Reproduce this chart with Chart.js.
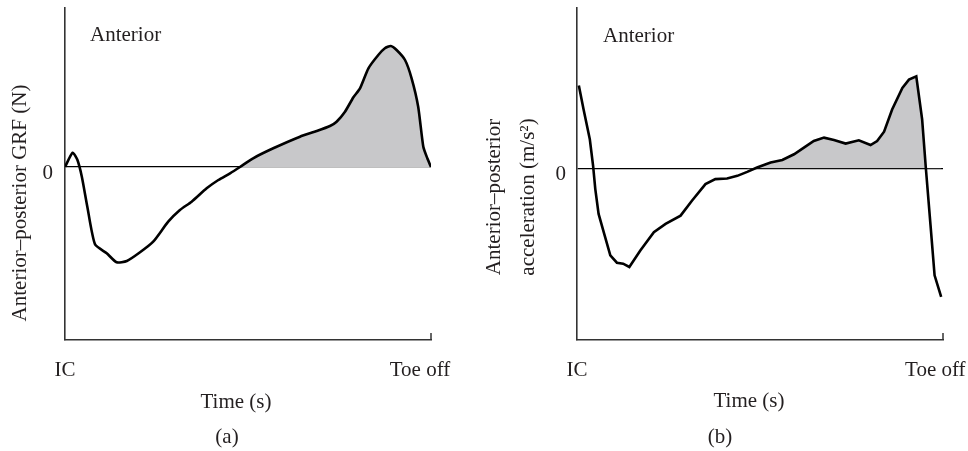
<!DOCTYPE html>
<html>
<head>
<meta charset="utf-8">
<script src="https://cdn.jsdelivr.net/npm/chart.js@4.4.1/dist/chart.umd.min.js"></script>
<style>
  html, body { margin: 0; padding: 0; background: #ffffff; }
  #wrap { position: relative; width: 968px; height: 451px; overflow: hidden; }
  .panel { position: absolute; top: 0; width: 484px; height: 451px; }
  #pa { left: 0; }
  #pb { left: 484px; }
</style>
</head>
<body>
<div id="wrap">
  <div class="panel" id="pa"><canvas id="ca" width="484" height="451"></canvas></div>
  <div class="panel" id="pb"><canvas id="cb" width="484" height="451"></canvas></div>
</div>
<script>
// ---------- Data ----------
// Time axis: 0 = IC (initial contact), 100 = toe off (normalised)
const X_TICK_VALUES_A = [0, 97];
const X_TICK_VALUES_B = [0, 97.9];
const X_TICK_LABELS = ["IC", "Toe off"];
const Y_TICK_VALUES = [0];
const Y_TICK_LABELS = ["0"];

// Panel (a): anterior-posterior GRF (arbitrary units)
const grfTime = [0, 2.1, 3.4, 4.6, 6.1, 8.2, 11.4, 14.1, 16.9, 20.5, 24.1, 28.2, 31.4, 34.6, 38.7, 41.9,
  45.1, 47.8, 51.4, 56.9, 64.2, 68.8, 72.4, 74.2, 76.5, 78.8, 80.6, 82.9, 85.6, 87.4, 89.0, 90.6,
  92.9, 94.7, 96.5, 97.9, 99.0, 100];
const grfValue = [0, 1.43, 0.7, -0.97, -3.97, -7.73, -8.63, -9.53, -9.4, -8.53, -7.47, -5.47, -4.3, -3.47, -2.13, -1.3,
  -0.63, 0, 0.87, 1.87, 3.03, 3.6, 4.1, 4.53, 5.53, 6.97, 7.87, 9.87, 11.2, 11.87, 12.1, 11.7,
  10.7, 8.87, 6.03, 2.03, 0.87, 0];

// Panel (b): anterior-posterior acceleration (arbitrary units)
const accTime = [0.5, 1.8, 3.5, 4.4, 5.0, 5.9, 7.3, 9.1, 10.9, 12.6, 14.3, 17.3, 21.0, 24.2, 28.3, 31.4,
  35.1, 37.8, 41.0, 43.8, 46.5, 49.2, 52.9, 56.1, 59.3, 62.0, 64.7, 67.5, 70.2, 73.4, 77.0, 80.2,
  82.0, 83.9, 86.1, 88.9, 90.7, 92.7, 94.3, 95.3, 96.6, 97.7, 99.5];
const accValue = [8.3, 5.9, 2.9, 0.23, -2.1, -4.6, -6.43, -8.77, -9.5, -9.6, -9.93, -8.27, -6.43, -5.6, -4.77, -3.27,
  -1.6, -1.1, -1.03, -0.77, -0.37, 0.07, 0.57, 0.83, 1.4, 2.07, 2.73, 3.07, 2.83, 2.47, 2.8, 2.33,
  2.73, 3.67, 5.9, 8.07, 8.9, 9.23, 4.9, 0.07, -5.77, -10.77, -12.93];

// Shaded (anterior / propulsive) region starts at the mid-stance zero crossing
const SHADE_FROM_A = 47;
const SHADE_FROM_B = 46;

// ---------- Styling ----------
const SERIF = "'Liberation Serif', 'DejaVu Serif', serif";
const FS = 21;
const TEXT = "#231f20";
const AXIS = "#333333";
const SHADE = "#c8c8ca";

function pts(xs, ys) { return xs.map((x, i) => ({ x: x, y: ys[i] })); }

const textPlugin = {
  id: 'panelText',
  afterDraw(chart, args, opts) {
    const ctx = chart.ctx;
    const xs = chart.scales.x;
    const ca = chart.chartArea;
    ctx.save();
    // closing tick at the right end of the time axis
    const xr = xs.getPixelForValue(100);
    ctx.strokeStyle = AXIS;
    ctx.lineWidth = 1.5;
    ctx.beginPath();
    ctx.moveTo(xr, ca.bottom);
    ctx.lineTo(xr, ca.bottom - 7);
    ctx.stroke();

    ctx.fillStyle = TEXT;
    ctx.font = FS + "px " + SERIF;
    for (const t of opts.items) {
      ctx.save();
      ctx.translate(t.x, t.y);
      if (t.rot) ctx.rotate(t.rot);
      ctx.textAlign = t.align || 'center';
      ctx.textBaseline = t.base || 'alphabetic';
      ctx.fillText(t.text, 0, 0);
      ctx.restore();
    }
    ctx.restore();
  }
};

function makeChart(canvasId, xs, ys, xTickVals, cfg) {
  const all = pts(xs, ys);
  const shaded = all.filter(p => p.x >= cfg.shadeFrom);
  return new Chart(document.getElementById(canvasId), {
    type: 'line',
    data: {
      datasets: [
        {
          data: shaded,
          borderWidth: 0,
          borderColor: 'rgba(0,0,0,0)',
          pointRadius: 0,
          tension: cfg.tension,
          fill: { target: 'origin', above: SHADE, below: 'rgba(0,0,0,0)' },
          order: 2
        },
        {
          data: all,
          borderColor: '#000000',
          borderWidth: 2.6,
          pointRadius: 0,
          tension: cfg.tension,
          fill: false,
          order: 1
        }
      ]
    },
    options: {
      responsive: false,
      devicePixelRatio: 1,
      animation: false,
      events: [],
      layout: { padding: { left: 0, right: cfg.padRight, top: 8, bottom: 0 } },
      plugins: {
        legend: { display: false },
        tooltip: { enabled: false },
        panelText: { items: cfg.texts }
      },
      scales: {
        x: {
          type: 'linear',
          min: 0,
          max: 100,
          grid: { display: false, drawTicks: false },
          border: { display: true, color: AXIS, width: 1.6 },
          ticks: {
            padding: 18,
            color: TEXT,
            font: { family: SERIF, size: FS },
            maxRotation: 0,
            callback: (v, i) => X_TICK_LABELS[i]
          },
          afterBuildTicks: s => { s.ticks = xTickVals.map(v => ({ value: v })); },
          afterFit: s => { s.height = 111; s.paddingLeft = 0; s.paddingRight = 0; }
        },
        y: {
          type: 'linear',
          min: cfg.yMin,
          max: cfg.yMax,
          grid: {
            display: true,
            drawTicks: false,
            color: '#000000',
            lineWidth: 1.2
          },
          border: { display: true, color: AXIS, width: 1.6 },
          ticks: {
            padding: cfg.yTickPad,
            labelOffset: 6,
            color: TEXT,
            font: { family: SERIF, size: FS },
            callback: (v, i) => Y_TICK_LABELS[i]
          },
          afterBuildTicks: s => { s.ticks = Y_TICK_VALUES.map(v => ({ value: v })); },
          afterFit: s => { s.width = cfg.yWidth; s.paddingTop = 0; s.paddingBottom = 0; }
        }
      }
    },
    plugins: [textPlugin]
  });
}

makeChart('ca', grfTime, grfValue, X_TICK_VALUES_A, {
  tension: 0.2,
  shadeFrom: SHADE_FROM_A,
  padRight: 53,
  yWidth: 65,
  yTickPad: 12,
  yMin: -17.3,
  yMax: 15.9,
  texts: [
    { text: 'Anterior', x: 90, y: 41, align: 'left' },
    { text: 'Anterior\u2013posterior GRF (N)', x: 20, y: 203, rot: -Math.PI / 2, base: 'middle' },
    { text: 'Time (s)', x: 236, y: 408 },
    { text: '(a)', x: 227, y: 443 }
  ]
});

makeChart('cb', accTime, accValue, X_TICK_VALUES_B, {
  tension: 0,
  shadeFrom: SHADE_FROM_B,
  padRight: 25,
  yWidth: 93,
  yTickPad: 11,
  yMin: -17.27,
  yMax: 16.1,
  texts: [
    { text: 'Anterior', x: 119, y: 42, align: 'left' },
    { text: 'Anterior\u2013posterior', x: 10, y: 197, rot: -Math.PI / 2, base: 'middle' },
    { text: 'acceleration (m/s\u00B2)', x: 44, y: 197, rot: -Math.PI / 2, base: 'middle' },
    { text: 'Time (s)', x: 265, y: 407 },
    { text: '(b)', x: 236, y: 443 }
  ]
});
</script>
</body>
</html>
